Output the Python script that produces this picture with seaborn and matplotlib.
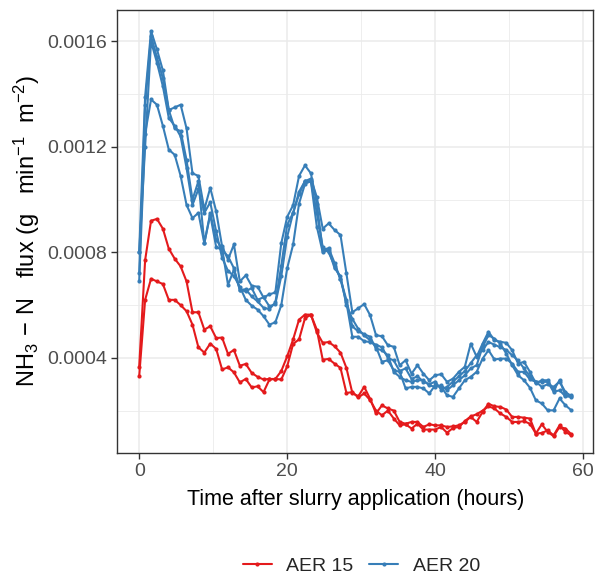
import numpy as np
import pandas as pd
import seaborn as sns
import matplotlib.pyplot as plt

# Measurement times (hours after slurry application), 48 min sampling
time_h = np.round(np.arange(0, 59, 0.8), 1)

# AER 15 chambers
aer15_a = [0.000367, 0.00077, 0.00092, 0.000927, 0.00089, 0.000814, 0.000776, 0.000747, 0.00069, 0.000573,
           0.000573, 0.000507, 0.00052, 0.000475, 0.000477, 0.000415, 0.00043, 0.00037, 0.000377, 0.000343,
           0.000328, 0.000318, 0.00032, 0.00032, 0.00035, 0.000406, 0.00047, 0.000545, 0.000564, 0.000564,
           0.000497, 0.000457, 0.00046, 0.000444, 0.00042, 0.000362, 0.000267, 0.000254,
           0.00029, 0.000245, 0.000189, 0.00022, 0.000208, 0.0002, 0.000157, 0.00015, 0.000157, 0.000157,
           0.000138, 0.000148, 0.000144, 0.000144, 0.000138, 0.00014, 0.000144, 0.000157, 0.000176, 0.000157,
           0.000195, 0.000226, 0.000216, 0.000214, 0.000204, 0.000176, 0.000176, 0.000173, 0.00017, 0.000113,
           0.000148, 0.000119, 0.000103, 0.000138, 0.000132, 0.00011]
aer15_b = [0.00033, 0.00062, 0.0007, 0.00069, 0.00068, 0.00062, 0.00062, 0.0006, 0.000577, 0.000526,
           0.00044, 0.00042, 0.000454, 0.000434, 0.000356, 0.000364, 0.000345, 0.000307, 0.00032, 0.000288,
           0.000292, 0.00027, 0.000318, 0.00032, 0.000318, 0.000368, 0.000453, 0.00047, 0.00055, 0.000564,
           0.000507, 0.000393, 0.000396, 0.000378, 0.000362, 0.000267, 0.00027, 0.00025,
           0.000265, 0.00024, 0.0002, 0.000182, 0.0002, 0.00017, 0.000144, 0.000148, 0.000132, 0.00015,
           0.000128, 0.000128, 0.000128, 0.000138, 0.000116, 0.000134, 0.000138, 0.00016, 0.000178, 0.000186,
           0.0002, 0.000216, 0.000208, 0.000189, 0.000176, 0.000157, 0.000157, 0.00016, 0.00015, 0.000113,
           0.000115, 0.000125, 0.000106, 0.000144, 0.000119, 0.000106]

# AER 20 chambers
aer20_a = [0.0008, 0.00139, 0.00164, 0.00157, 0.00149, 0.00134, 0.00135, 0.00136, 0.00127, 0.0011, 0.00109,
           0.000963, 0.001045, 0.000956, 0.000823, 0.000773, 0.00083, 0.00069, 0.000713, 0.000673, 0.00067,
           0.000629, 0.000641, 0.000648, 0.000835, 0.000935, 0.000979, 0.00109, 0.00113, 0.0011,
           0.000985, 0.00081, 0.000816, 0.00076, 0.000698, 0.00061, 0.00048, 0.00048, 0.000463,
           0.00046, 0.00045, 0.00044, 0.0004, 0.00039, 0.00035, 0.00036, 0.00032, 0.00033, 0.00031,
           0.0003, 0.00031, 0.00028, 0.00029, 0.00031, 0.00033, 0.00035, 0.00038, 0.00041, 0.00043,
           0.00046, 0.00045, 0.00044, 0.00043, 0.00041, 0.00039, 0.00036, 0.00033, 0.00031, 0.00029,
           0.0003, 0.00029, 0.00031, 0.00027, 0.000255]
aer20_b = [0.00072, 0.00136, 0.00162, 0.00154, 0.00146, 0.00134, 0.00127, 0.00126, 0.00115, 0.001, 0.00107,
           0.000835, 0.000949, 0.000848, 0.000816, 0.000677, 0.000734, 0.000658, 0.000652, 0.000665, 0.00062,
           0.00063, 0.000595, 0.000605, 0.00071, 0.00086, 0.00095, 0.00103, 0.00107, 0.00108,
           0.00101, 0.00089, 0.00091, 0.000885, 0.000866, 0.00072, 0.000573, 0.000588, 0.000604,
           0.000562, 0.000486, 0.000482, 0.000448, 0.000442, 0.000372, 0.000391, 0.00034, 0.000372, 0.00034,
           0.000315, 0.000334, 0.000338, 0.000309, 0.000321, 0.000347, 0.000366, 0.000454, 0.000404, 0.000454,
           0.000499, 0.000467, 0.000461, 0.000457, 0.000429, 0.000378, 0.000385, 0.000347, 0.000303, 0.000315,
           0.000315, 0.000277, 0.000315, 0.000258, 0.000258]
aer20_c = [0.00069, 0.00125, 0.00138, 0.00136, 0.00128, 0.00119, 0.00117, 0.00109, 0.00098, 0.00093, 0.00095,
           0.000835, 0.000943, 0.00082, 0.00081, 0.000785, 0.00074, 0.000658, 0.00066, 0.000633, 0.000614,
           0.00059, 0.000585, 0.00061, 0.00075, 0.000905, 0.00095, 0.00102, 0.00107, 0.00107,
           0.000898, 0.0008, 0.00081, 0.00074, 0.00071, 0.0006, 0.000548, 0.00051, 0.000485,
           0.000467, 0.000442, 0.000385, 0.000391, 0.000353, 0.000347, 0.000284, 0.00029, 0.00029, 0.000284,
           0.000265, 0.000296, 0.00029, 0.000258, 0.000252, 0.000284, 0.000315, 0.000328, 0.000347, 0.000397,
           0.000429, 0.000394, 0.000397, 0.000397, 0.000378, 0.000347, 0.000347, 0.000318, 0.000309, 0.000309,
           0.000309, 0.000271, 0.000277, 0.000254, 0.000252]
aer20_d = [0.0008, 0.0012, 0.0016, 0.00152, 0.00143, 0.00131, 0.00128, 0.00124, 0.00112, 0.00098, 0.00104,
           0.00095, 0.00099, 0.00088, 0.00078, 0.00073, 0.00071, 0.00067, 0.00062, 0.000598, 0.000583,
           0.000558, 0.000526, 0.000535, 0.0006, 0.00074, 0.00083, 0.000985, 0.00106, 0.00107,
           0.00095, 0.00082, 0.0008, 0.00075, 0.0007, 0.00062, 0.00052, 0.0005, 0.00049,
           0.00048, 0.000435, 0.000429, 0.00041, 0.000347, 0.000328, 0.000315, 0.000309, 0.000315, 0.000315,
           0.000296, 0.00029, 0.000296, 0.000277, 0.000296, 0.000315, 0.000334, 0.00036, 0.000372, 0.000442,
           0.000486, 0.000473, 0.000454, 0.000416, 0.000372, 0.000334, 0.000315, 0.000287, 0.000239, 0.000227,
           0.000201, 0.000201, 0.000246, 0.00022, 0.000201]

series = {('AER 15', 'a'): aer15_a, ('AER 15', 'b'): aer15_b,
          ('AER 20', 'a'): aer20_a, ('AER 20', 'b'): aer20_b,
          ('AER 20', 'c'): aer20_c, ('AER 20', 'd'): aer20_d}

frames = []
for (grp, rep), vals in series.items():
    frames.append(pd.DataFrame({'time': time_h, 'flux': vals, 'AER': grp, 'rep': grp + rep}))
df = pd.concat(frames, ignore_index=True)

#ggplot theme_bw look
sns.set_theme(style="white")
plt.rcParams['font.family'] = ['Liberation Sans', 'DejaVu Sans']
plt.rcParams['mathtext.fontset'] = 'custom'
plt.rcParams['mathtext.rm'] = 'Liberation Sans'
plt.rcParams['mathtext.it'] = 'Liberation Sans:italic'

fig = plt.figure(figsize=(5.95, 5.79), dpi=100)
ax = fig.add_axes([0.197, 0.218, 0.800, 0.765])

palette = {'AER 15': '#E41A1C', 'AER 20': '#377EB8'}
sns.lineplot(data=df, x='time', y='flux', hue='AER', units='rep', estimator=None,
             palette=palette, marker='o', markersize=3, markeredgewidth=0,
             linewidth=1.5, ax=ax)

ax.set_xlim(-2.97, 61.35)
ax.set_ylim(0.00004, 0.00172)
ax.set_xticks([0, 20, 40, 60])
ax.set_yticks([0.0004, 0.0008, 0.0012, 0.0016])
ax.set_yticklabels(['0.0004', '0.0008', '0.0012', '0.0016'])
ax.set_xticks([10, 30, 50], minor=True)
ax.set_yticks([0.0002, 0.0006, 0.0010, 0.0014], minor=True)
ax.grid(which='major', color='#EBEBEB', linewidth=1.1)
ax.grid(which='minor', color='#EBEBEB', linewidth=0.6)
ax.set_axisbelow(True)
for s in ax.spines.values():
    s.set_color('#333333')
    s.set_linewidth(1.0)
ax.tick_params(axis='both', which='major', length=4, width=1.0, color='#333333',
               labelsize=14, labelcolor='#4D4D4D', pad=3, bottom=True, left=True)
ax.tick_params(axis='both', which='minor', length=0)

ax.set_xlabel('Time after slurry application (hours)', fontsize=15.5, color='black', labelpad=7)
ax.set_ylabel(r'NH$_3$$\,-\,$N   flux (g   min$^{-1}$  m$^{-2}$)', fontsize=17, color='black', labelpad=4)

handles, labels = ax.get_legend_handles_labels()
ax.legend(handles=handles, labels=labels, loc='center', bbox_to_anchor=(0.513, -0.256),
          ncol=2, frameon=False, fontsize=14, handlelength=1.5, columnspacing=0.8,
          handletextpad=0.75)

fig.savefig('out.png', dpi=100)
